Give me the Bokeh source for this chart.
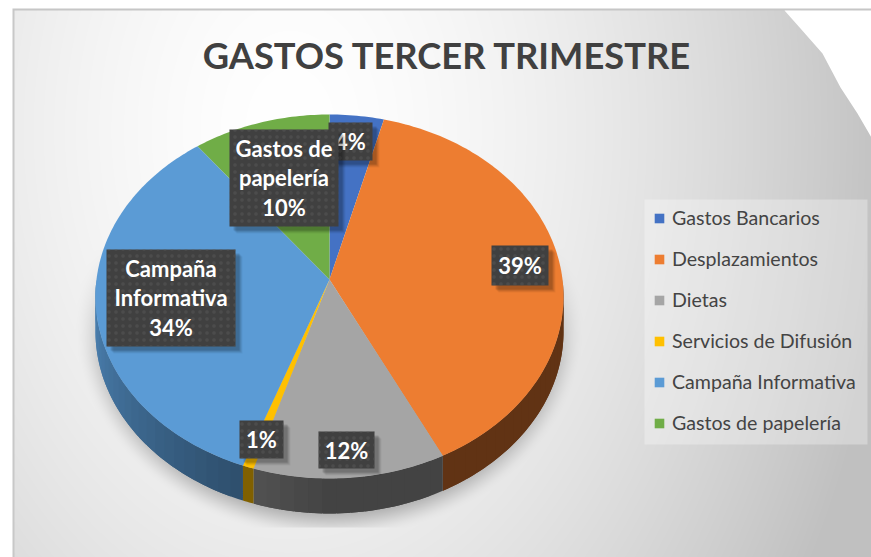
import numpy as np
from bokeh.plotting import figure
from bokeh.models import Legend, LegendItem
from bokeh.core.properties import value
from bokeh.embed import file_html
from bokeh.resources import INLINE

# ---- data ----
categories = ["Gastos Bancarios", "Desplazamientos", "Dietas",
              "Servicios de Difusión", "Campaña Informativa", "Gastos de papelería"]
values = [4.1, 38.55, 12.15, 0.7, 34.1, 10.4]
label_names = ["", "", "", "", "Campaña\nInformativa", "Gastos de\npapelería"]
chart_title = "GASTOS TERCER TRIMESTRE"

# ---- style ----
colors = ["#4472c4", "#ed7d31", "#a5a5a5", "#ffc000", "#5b9bd5", "#70ad47"]
W, H = 871, 557
CX, CY = 329.0, 279.0      # projected pie centre
B, A, K = 233.0, 180.4, 0.0934
DEPTH = 35.0
# label boxes (x0, x1, y0, y1), page pixels
boxes = [(328, 372, 122, 160), (491, 548, 245, 285), (318, 374, 431, 468),
         (239, 283, 420, 458), (106, 235, 249, 346), (229, 338, 129, 226)]


def Y(y):
    return H - np.asarray(y, dtype=float)


def rim(theta_deg):
    t = np.radians(theta_deg)
    u, v = np.sin(t), -np.cos(t)
    w = 1 - K * v
    return CX + B * u / w, CY + A * v / w


p = figure(width=W, height=H, x_range=(0, W), y_range=(0, H),
           x_axis_type=None, y_axis_type=None, toolbar_location=None,
           output_backend="svg", min_border=0, outline_line_color=None)
p.grid.visible = False

# ---- background: soft radial gradient + pie shadow ----
xs = np.arange(0, W) + 0.5
ys = np.arange(0, H) + 0.5
gx, gy = np.meshgrid(xs, ys)
d = np.hypot(gx - 290, (gy - 130) * 0.7)
bg = np.clip(255 - 62 * (d / 600) ** 1.6, 192, 255)
e = np.hypot((gx - 329) / 245, (gy - 325) / 205)
s = np.clip((1.04 - e) / 0.16, 0, 1)
s = s * s * (3 - 2 * s)
s *= np.clip((gy - 240) / 120, 0, 1)
s[gy > 527] = 0
bg = bg * (1 - 0.28 * s)
rgba = np.zeros(gx.shape + (4,), dtype=np.uint8)
rgba[..., 0] = rgba[..., 1] = rgba[..., 2] = bg.astype(np.uint8)
rgba[..., 3] = 255
rgba[(gx < 14.5) & (gy > 8), :3] = 200
rgba[(gy < 10) & (gy > 8), :3] = 198
rgba[gx < 12] = [255, 255, 255, 255]
rgba[gy < 8] = [255, 255, 255, 255]
img = rgba.view(dtype=np.uint32).reshape(gx.shape)[::-1]
p.image_rgba(image=[img], x=0, y=0, dw=W, dh=H)

# white cut of the top-right corner
cut_x = [784, 800, 822, 840, 857, 871, 871, 784]
cut_y = [10, 28, 53, 87, 113, 137, 10, 10]
p.patch(cut_x, Y(cut_y), fill_color="white", line_color=None)

# ---- pie walls and faces ----
fr = np.array(values) / np.sum(values)
ends = np.cumsum(fr) * 360
starts = ends - fr * 360


def shade(th):
    return 0.41 + 0.45 * np.clip((th - 180) / 90, 0, 1)


wx, wy, wc = [], [], []
for st, en, col in zip(starts, ends, colors):
    r0 = int(col[1:3], 16), int(col[3:5], 16), int(col[5:7], 16)
    a = max(st, 90)
    b = min(en, 270)
    if b <= a:
        continue
    n = max(int((b - a) / 3), 1)
    th = np.linspace(a, b, n + 1)
    for i in range(n):
        # each piece overlaps the next one, so no seams show
        q = np.linspace(th[i], min(th[i + 1] + 3, b) if i < n - 1 else b, 6)
        x, y = rim(q)
        wx.append(np.r_[x, x[::-1]])
        wy.append(Y(np.r_[y, y[::-1] + DEPTH]))
        f = shade((th[i] + th[i + 1]) / 2)
        wc.append("#%02x%02x%02x" % tuple(int(v * f) for v in r0))
p.patches(wx, wy, fill_color=wc, line_color=None)

renderers = []
for st, en, col in zip(starts, ends, colors):
    th = np.linspace(st, en, max(int(en - st), 2) + 1)
    x, y = rim(th)
    r = p.patch(np.r_[CX, x], Y(np.r_[CY, y]), fill_color=col, line_color=None)
    renderers.append(r)

# ---- data labels ----
for (x0, x1, y0, y1), nm, val in zip(boxes, label_names, values):
    for o, al in [(7, 0.05), (6, 0.07), (5, 0.09), (4, 0.12)]:
        p.quad(left=x0 + o, right=x1 + o, top=Y(y0 + o), bottom=Y(y1 + o),
               fill_color="#000000", fill_alpha=al, line_color=None)
    p.quad(left=x0, right=x1, top=Y(y0), bottom=Y(y1), fill_color="#404040",
           line_color=None, hatch_pattern="dot", hatch_color="#5c5c5c",
           hatch_alpha=0.45, hatch_scale=7, hatch_weight=1.2)
    txt = (nm + "\n" if nm else "") + "%d%%" % round(val)
    p.text([(x0 + x1) / 2], Y([(y0 + y1) / 2]), text=[txt], text_align="center",
           text_baseline="middle", text_color="white", text_font=value("Lato"),
           text_font_style="bold", text_font_size="22px", text_line_height=1.08)

# ---- title ----
p.text([447], Y([54]), text=[chart_title], text_align="center", text_baseline="middle",
       text_color="#404040", text_font=value("Lato"), text_font_style="bold",
       text_font_size="36.3px")

# ---- legend ----
p.quad(left=644, right=867, top=Y(199), bottom=Y(444), fill_color="white",
       fill_alpha=0.3, line_color=None)
legend = Legend(items=[LegendItem(label=c, renderers=[r]) for c, r in zip(categories, renderers)],
                location=(653, 123), orientation="vertical",
                background_fill_alpha=0, border_line_color=None,
                glyph_width=12, glyph_height=12,
                label_standoff=7, label_text_font="Lato", label_text_font_size="19.6px",
                label_text_color="#444444", spacing=18, padding=11, margin=0,
                label_height=12)
p.add_layout(legend)

open("out.html", "w").write(file_html(p, INLINE))
